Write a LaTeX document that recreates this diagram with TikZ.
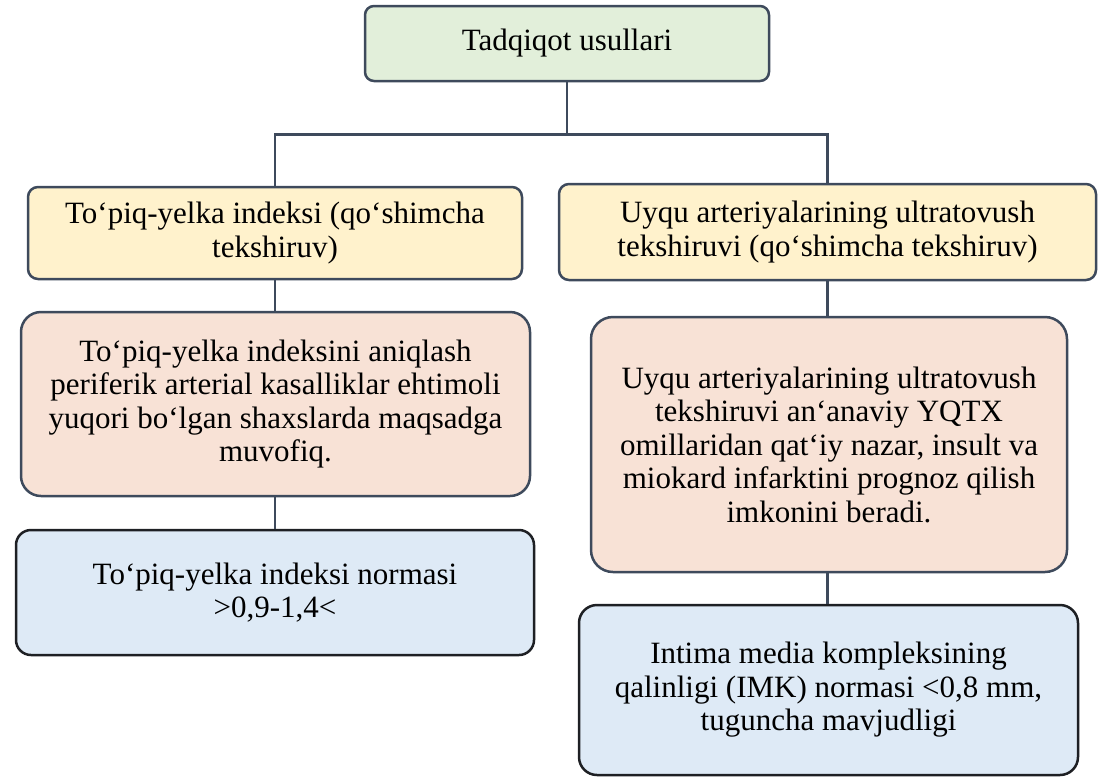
\documentclass[tikz,border=0pt]{standalone}
\usepackage{fontspec}
\setmainfont{Liberation Serif}
\definecolor{gfill}{HTML}{E2EFDA}
\definecolor{yfill}{HTML}{FFF2CC}
\definecolor{pfill}{HTML}{F8E2D6}
\definecolor{bfill}{HTML}{DEEAF6}
\definecolor{edge}{HTML}{3E4A5C}
\definecolor{dedge}{HTML}{1E2024}
\tikzset{
  box/.style={draw=edge, line width=2.5pt, align=center, inner sep=0pt,
    font=\fontsize{31}{33.5}\selectfont, text=black},
  link/.style={draw=edge, line width=2.5pt}
}
\begin{document}
\begin{tikzpicture}[x=1pt,y=-1pt]
\useasboundingbox (0,0) rectangle (1102,780);
\node[box, fill=gfill, rounded corners=9pt, minimum width=404pt, minimum height=75pt] (top) at (567,43.5) {Tadqiqot usullari};
\node[box, fill=yfill, rounded corners=10pt, minimum width=494pt, minimum height=92pt] (ly) at (275,233) {To‘piq-yelka indeksi (qo‘shimcha\\tekshiruv)};
\node[box, fill=yfill, rounded corners=10pt, minimum width=537pt, minimum height=96pt] (ry) at (827.5,232) {Uyqu arteriyalarining ultratovush\\tekshiruvi (qo‘shimcha tekshiruv)};
\node[box, fill=pfill, rounded corners=20pt, minimum width=509pt, minimum height=184pt] (lp) at (275.5,404) {To‘piq-yelka indeksini aniqlash\\periferik arterial kasalliklar ehtimoli\\yuqori bo‘lgan shaxslarda maqsadga\\muvofiq.};
\node[box, fill=pfill, rounded corners=22pt, minimum width=476pt, minimum height=255pt] (rp) at (829,444.5) {Uyqu arteriyalarining ultratovush\\tekshiruvi an‘anaviy YQTX\\omillaridan qat‘iy nazar, insult va\\miokard infarktini prognoz qilish\\imkonini beradi.};
\node[box, draw=dedge, fill=bfill, rounded corners=15pt, minimum width=518pt, minimum height=125pt] (lb) at (275,592.5) {To‘piq-yelka indeksi normasi\\>0,9-1,4<};
\node[box, draw=dedge, fill=bfill, rounded corners=18pt, minimum width=499pt, minimum height=170pt] (rb) at (828.5,690) {Intima media kompleksining\\qalinligi (IMK) normasi <0,8 mm,\\tuguncha mavjudligi};
\draw[link] (top.south) -- ++(0,52) -| (ly.north);
\draw[link] (top.south) -- ++(0,52) -| (ry.north);
\draw[link] (ly.south) -- (lp.north -| ly.south);
\draw[link] (lp.south -| ly.south) -- (lb.north -| ly.south);
\draw[link] (ry.south) -- (rp.north -| ry.south);
\draw[link] (rp.south -| ry.south) -- (rb.north -| ry.south);
\end{tikzpicture}
\end{document}
